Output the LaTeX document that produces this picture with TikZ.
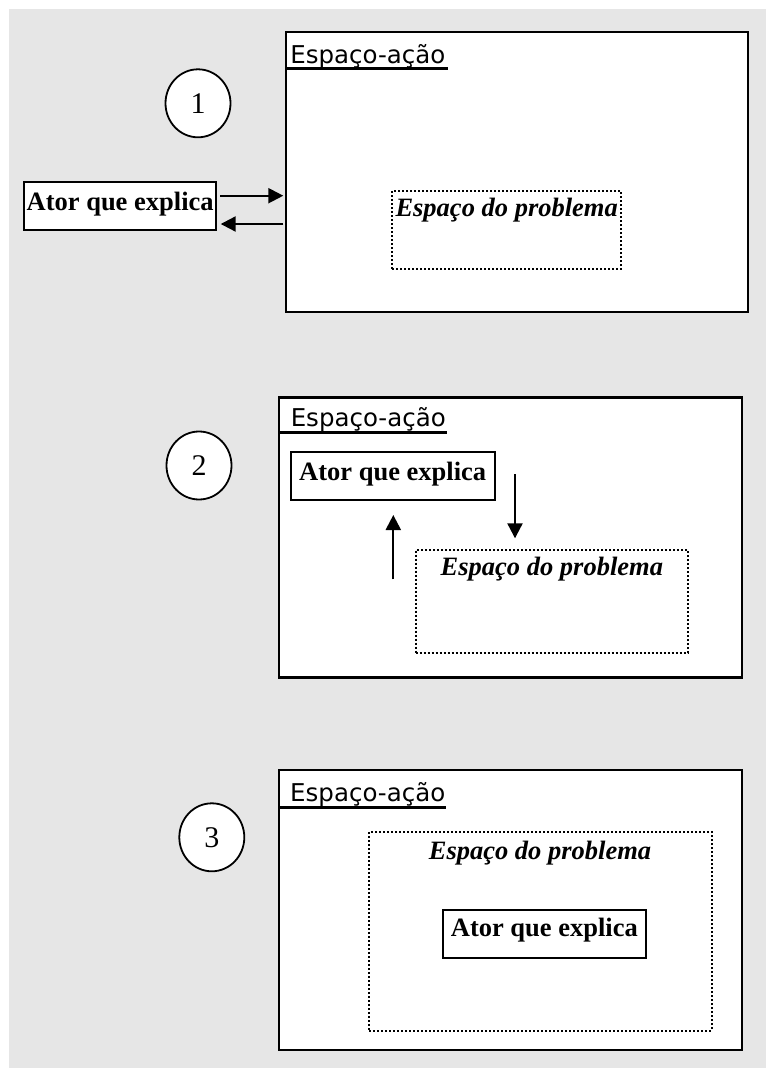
\documentclass[tikz,border=0pt]{standalone}
\usepackage{fontspec}
\setmainfont{Liberation Serif}
\newfontfamily\labelfont{DejaVu Sans}
\usetikzlibrary{arrows.meta,calc,shapes.geometric}
\definecolor{bggray}{HTML}{E6E6E6}
\begin{document}
\begin{tikzpicture}[x=1pt,y=-1pt,
  outerbox/.style={draw=black,line width=2.2pt,fill=white,rectangle,inner sep=0pt,outer sep=0pt,minimum width=463pt,minimum height=280pt},
  actorbox/.style={draw=black,line width=2pt,fill=white,rectangle,inner sep=0pt,outer sep=0pt,minimum height=47.7pt,font=\fontsize{26.5}{30}\selectfont\bfseries,text height=18pt,text depth=10.3pt},
  probbox/.style={draw=black,line width=2pt,dash pattern=on 2pt off 2pt,rectangle,inner sep=0pt,outer sep=0pt},
  probtext/.style={font=\fontsize{26.5}{30}\selectfont\bfseries\itshape,inner sep=0pt,anchor=base},
  spacelabel/.style={font=\labelfont\fontsize{24.5}{28}\selectfont,inner sep=0pt,anchor=base west},
  uline/.style={line width=3pt},
  numcirc/.style={draw=black,line width=1.8pt,fill=white,ellipse,minimum width=65pt,minimum height=68pt,inner sep=0pt,font=\fontsize{30}{32}\selectfont},
  arr/.style={line width=2.2pt,-{Triangle[length=15pt,width=15pt]}},
]
\useasboundingbox (0,0) rectangle (766,1068);
\fill[bggray] (9,9) rectangle (766,1068);

% ---------- Diagram 1 ----------
\node[outerbox,minimum width=462pt] (b1) at (516.7,172.3) {};
\node[spacelabel] (l1) at ($(b1.north west)+(4.4,31)$) {Espaço-ação};
\draw[uline] ($(b1.north west)+(0,36.2)$) -- ($(l1.base east)+(2,5.2)$);
\node[numcirc] (c1) at (198,103.3) {1};
\node[actorbox,minimum width=191.7pt] (a1) at (120.15,206.15) {Ator que explica};
\node[probbox,minimum width=228.7pt,minimum height=78.3pt] (p1) at (506.65,230.15) {};
\node[probtext] (t1) at ($(p1.north)+(0,25.7)$) {Espaço do problema};
\draw[arr] ($(a1.east)+(4,-10.45)$) -- ($(a1.east -| b1.west)+(-2.4,-10.45)$);
\draw[arr] ($(a1.east -| b1.west)+(-2.4,17.85)$) -- ($(a1.east)+(4.7,17.85)$);

% ---------- Diagram 2 ----------
\node[outerbox] (b2) at (510.65,537.5) {};
\node[spacelabel] (l2) at ($(b2.north west)+(11.4,29.4)$) {Espaço-ação};
\draw[uline] ($(b2.north west)+(0,35)$) -- ($(l2.base east)+(1,5.6)$);
\node[numcirc] (c2) at (199,465.5) {2};
\node[actorbox,minimum width=204pt] (a2) at (392.7,476.15) {Ator que explica};
\node[probbox,minimum width=272.3pt,minimum height=102.7pt] (p2) at (551.85,601.35) {};
\node[probtext] (t2) at ($(p2.north)+(0,25)$) {Espaço do problema};
\draw[arr] ($(a2.east)+(20.3,-1.85)$) -- ($(p2.north west)+(99.3,-11.7)$);
\draw[arr] ($(a2.south)+(0.6,79.3)$) -- ($(a2.south)+(0.6,15)$);

% ---------- Diagram 3 ----------
\node[outerbox] (b3) at (510.8,910) {};
\node[spacelabel] (l3) at ($(b3.north west)+(10.7,31.7)$) {Espaço-ação};
\draw[uline] ($(b3.north west)+(0,37.3)$) -- ($(l3.base east)+(1,5.6)$);
\node[numcirc] (c3) at (211.8,837.3) {3};
\node[probbox,minimum width=342.4pt,minimum height=199pt] (p3) at (540.5,931.2) {};
\node[probtext] (t3) at ($(p3.north)+(-0.5,27.3)$) {Espaço do problema};
\node[actorbox,minimum width=203.3pt,text height=16pt,text depth=12.3pt] (a3) at (544.35,934.15) {Ator que explica};
\end{tikzpicture}
\end{document}
